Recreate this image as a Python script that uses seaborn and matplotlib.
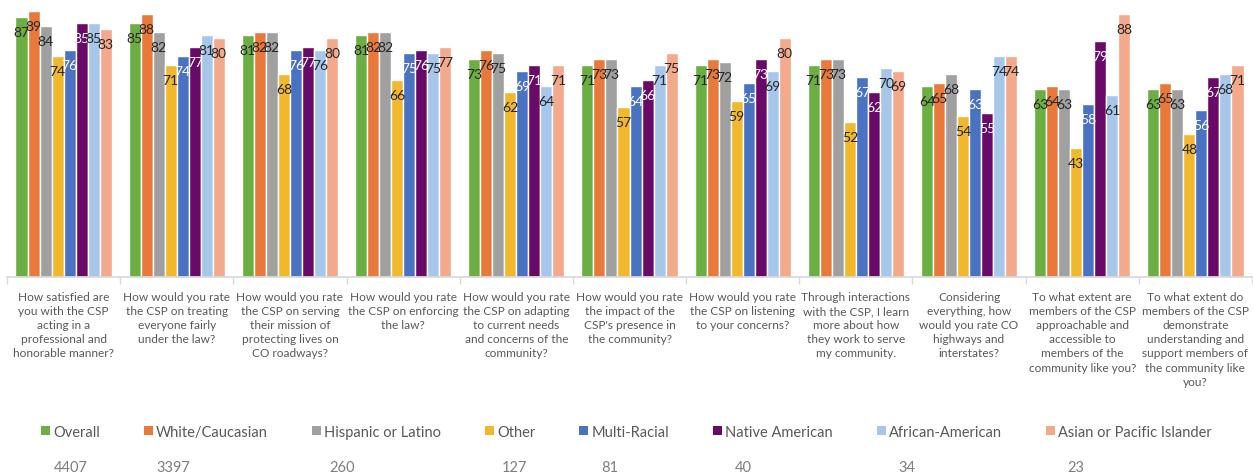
import matplotlib
matplotlib.use("Agg")
import matplotlib.pyplot as plt
from matplotlib.patches import Patch
import seaborn as sns
import pandas as pd

# Survey questions (x categories)
questions = [
    "How satisfied are\nyou with the CSP\nacting in a\nprofessional and\nhonorable manner?",
    "How would you rate\nthe CSP on treating\neveryone fairly\nunder the law?",
    "How would you rate\nthe CSP on serving\ntheir mission of\nprotecting lives on\nCO roadways?",
    "How would you rate\nthe CSP on enforcing\nthe law?",
    "How would you rate\nthe CSP on adapting\nto current needs\nand concerns of the\ncommunity?",
    "How would you rate\nthe impact of the\nCSP's presence in\nthe community?",
    "How would you rate\nthe CSP on listening\nto your concerns?",
    "Through interactions\nwith the CSP, I learn\nmore about how\nthey work to serve\nmy community.",
    "Considering\neverything, how\nwould you rate CO\nhighways and\ninterstates?",
    "To what extent are\nmembers of the CSP\napproachable and\naccessible to\nmembers of the\ncommunity like you?",
    "To what extent do\nmembers of the CSP\ndemonstrate\nunderstanding and\nsupport members of\nthe community like\nyou?",
]

# Respondent groups and their sample sizes
groups = ["Overall", "White/Caucasian", "Hispanic or Latino", "Other",
          "Multi-Racial", "Native American", "African-American",
          "Asian or Pacific Islander"]
group_counts = [4407, 3397, 260, 127, 81, 40, 34, 23]

# Scores per group, one value per question
overall = [87, 85, 81, 81, 73, 71, 71, 71, 64, 63, 63]
white = [89, 88, 82, 82, 76, 73, 73, 73, 65, 64, 65]
hispanic = [84, 82, 82, 82, 75, 73, 72, 73, 68, 63, 63]
other = [74, 71, 68, 66, 62, 57, 59, 52, 54, 43, 48]
multi_racial = [76, 74, 76, 75, 69, 64, 65, 67, 63, 58, 56]
native_american = [85, 77, 77, 76, 71, 66, 73, 62, 55, 79, 67]
african_american = [85, 81, 76, 75, 64, 71, 69, 70, 74, 61, 68]
asian_pacific = [83, 80, 80, 77, 71, 75, 80, 69, 74, 88, 71]

series = [overall, white, hispanic, other, multi_racial,
          native_american, african_american, asian_pacific]

colors = ["#6BAE42", "#E8793A", "#A0A0A0", "#F2B82C",
          "#4A72C2", "#6A0A68", "#A7C7EA", "#F3A98B"]
label_colors = ["#262626", "#262626", "#262626", "#262626",
                "#FFFFFF", "#FFFFFF", "#262626", "#262626"]

df = pd.DataFrame(
    [(q, g, v) for g, vals in zip(groups, series) for q, v in zip(questions, vals)],
    columns=["question", "group", "score"],
)

sns.set_theme(style="white")
plt.rcParams["font.family"] = ["Lato", "DejaVu Sans"]

W, H = 1253, 477
fig = plt.figure(figsize=(W / 100, H / 100), dpi=100)
ax = fig.add_axes([7 / W, (H - 278) / H, 1245 / W, 278 / H])

sns.barplot(data=df, x="question", y="score", hue="group",
            order=questions, hue_order=groups, palette=colors,
            saturation=1, width=0.85, gap=0, legend=False, ax=ax,
            errorbar=None)

ax.set_ylim(0, 93)
ax.set_xlim(-0.5, len(questions) - 0.5)

# Value labels just inside the top of each bar
for container, tc in zip(ax.containers, label_colors):
    for bar in container:
        h = bar.get_height()
        ax.annotate(f"{h:.0f}", (bar.get_x() + bar.get_width() / 2, h),
                    xytext=(0, -15), textcoords="offset pixels",
                    ha="center", va="center", fontsize=10, color=tc)

# Axes styling
for s in ["top", "right", "left"]:
    ax.spines[s].set_visible(False)
ax.spines["bottom"].set_color("#D9D9D9")
ax.set_yticks([])
ax.set_xlabel("")
ax.set_ylabel("")
ax.set_xticks(range(len(questions)))
ax.set_xticklabels(questions, fontsize=8.6, color="#595959", linespacing=1.35,
                   va="top", ha="center")
ax.tick_params(axis="x", which="major", length=0, pad=10)
ax.set_xticks([i - 0.5 for i in range(len(questions) + 1)], minor=True)
ax.tick_params(axis="x", which="minor", length=5, color="#D9D9D9", width=1,
               bottom=True)

# Legend row with sample sizes underneath
handles = [Patch(facecolor=c, edgecolor="none") for c in colors]
leg = fig.legend(handles, groups, loc="center", ncol=len(groups),
                 bbox_to_anchor=(0.5, 1 - 433 / H), frameon=False,
                 fontsize=10.5, labelcolor="#595959",
                 handlelength=0.6, handleheight=0.6, handletextpad=0.25,
                 columnspacing=3.0)

fig.canvas.draw()
renderer = fig.canvas.get_renderer()
for h, n in zip(leg.legend_handles, group_counts):
    bb = h.get_window_extent(renderer)
    fig.text((bb.x0 + 30) / W, 1 - 468 / H, str(n), ha="center", va="center",
             fontsize=10.5, color="#7F7F7F")

fig.savefig("out.png", dpi=100)
